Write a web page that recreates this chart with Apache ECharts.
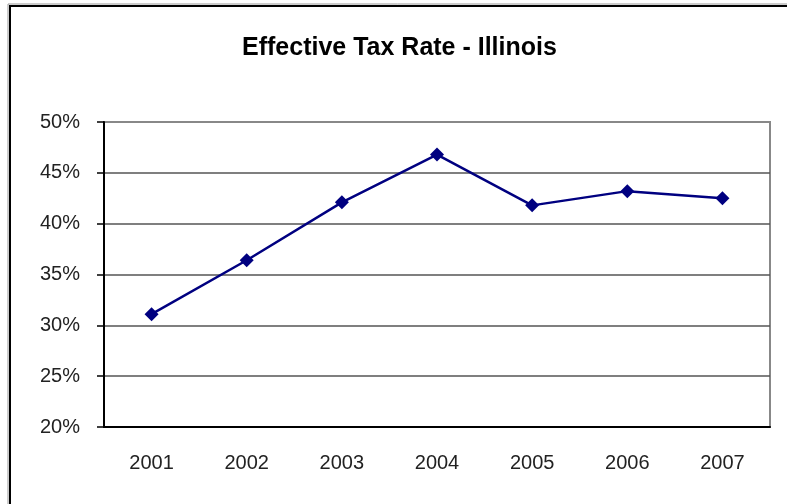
<!DOCTYPE html>
<html>
<head>
<meta charset="utf-8">
<script src="https://cdn.jsdelivr.net/npm/echarts@6/dist/echarts.min.js"></script>
<style>
  html, body { margin: 0; padding: 0; background: #fff; }
  #chart { width: 787px; height: 504px; }
</style>
</head>
<body>
<div id="chart"></div>
<script>
// 伊利诺伊州有效税率
var years = ['2001', '2002', '2003', '2004', '2005', '2006', '2007'];
var taxRate = [31.1, 36.4, 42.1, 46.8, 41.8, 43.2, 42.5];
var yMin = 20;
var yMax = 50;
var yStep = 5;

var chart = echarts.init(document.getElementById('chart'));
var font = 'Arial, "Liberation Sans", sans-serif';

var option = {
  backgroundColor: '#fff',
  animation: false,
  title: {
    text: 'Effective Tax Rate - Illinois',
    left: 237,
    top: 31,
    textStyle: {
      fontFamily: font,
      fontSize: 25,
      fontWeight: 'bold',
      color: '#000'
    }
  },
  grid: {
    left: 104,
    right: 17,
    top: 122,
    bottom: 77,
    show: true,
    backgroundColor: '#fff',
    borderColor: '#888',
    borderWidth: 2
  },
  xAxis: {
    type: 'category',
    data: years,
    boundaryGap: true,
    axisLine: {
      lineStyle: { color: '#000', width: 2 }
    },
    axisTick: {
      length: 6,
      lineStyle: { color: '#000', width: 1.5 }
    },
    axisLabel: {
      margin: 26,
      fontFamily: font,
      fontSize: 20,
      color: '#222'
    },
    splitLine: { show: false }
  },
  yAxis: {
    type: 'value',
    min: yMin,
    max: yMax,
    interval: yStep,
    axisLine: {
      show: true,
      lineStyle: { color: '#000', width: 2 }
    },
    axisTick: {
      show: true,
      length: 7,
      lineStyle: { color: '#000', width: 1.5 }
    },
    axisLabel: {
      margin: 24,
      fontFamily: font,
      fontSize: 20,
      color: '#222',
      formatter: '{value}%'
    },
    splitLine: {
      show: true,
      showMaxLine: false,
      lineStyle: { color: '#555', width: 1.5 }
    }
  },
  series: [{
    type: 'line',
    data: taxRate,
    symbol: 'diamond',
    symbolSize: 14,
    lineStyle: { color: '#000080', width: 2.5 },
    itemStyle: { color: '#000080' }
  }],
  graphic: [{
    type: 'rect',
    shape: { x: 10, y: 6, width: 800, height: 520 },
    style: { fill: 'none', stroke: '#000', lineWidth: 2 }
  }, {
    type: 'line',
    shape: { x1: 8, y1: 4, x2: 8, y2: 504 },
    style: { stroke: '#999', lineWidth: 1 }
  }, {
    type: 'line',
    shape: { x1: 8, y1: 4, x2: 787, y2: 4 },
    style: { stroke: '#999', lineWidth: 1 }
  }]
};

chart.setOption(option);
</script>
</body>
</html>
